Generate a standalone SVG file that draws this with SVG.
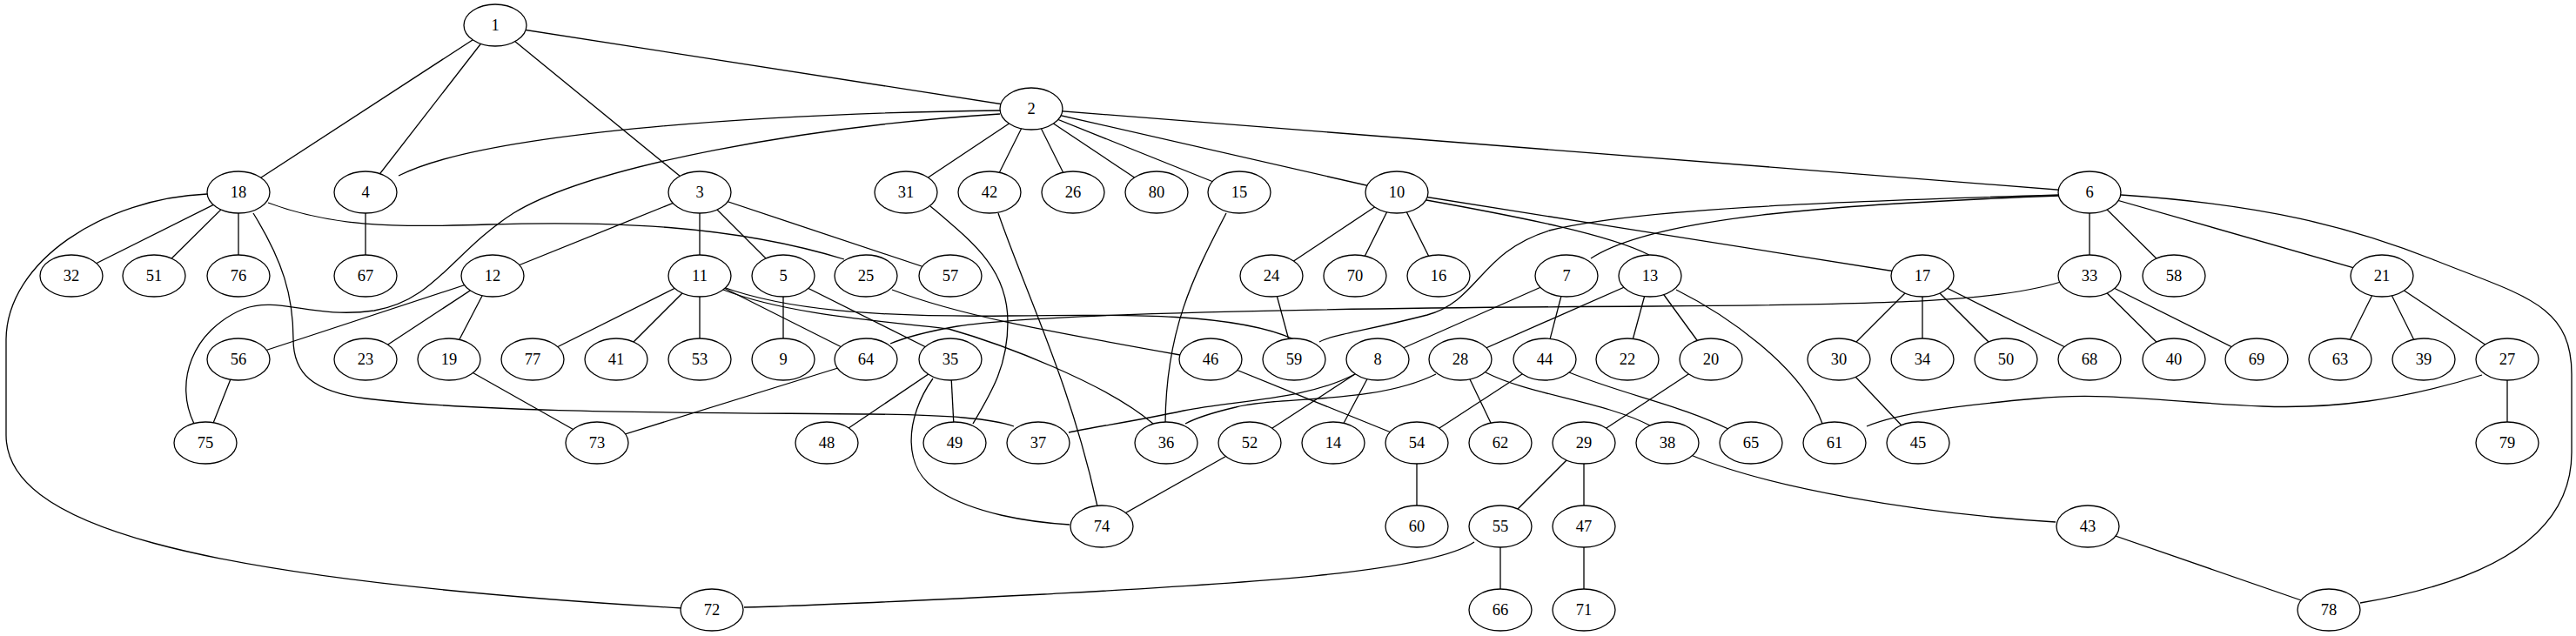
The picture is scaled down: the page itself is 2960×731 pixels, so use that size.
<svg xmlns="http://www.w3.org/2000/svg" width="2960" height="731" viewBox="0 0 2960 731">
<style>
.e{fill:none;stroke:#000;stroke-width:1.3}
.n ellipse{fill:#fff;stroke:#000;stroke-width:1.3}
.n text{font-family:"Liberation Serif","Times New Roman",serif;font-size:18.5px;text-anchor:middle;fill:#000}
</style>
<rect width="2960" height="731" fill="#fff"/>
<g id="edges">
<line class="e" x1="569" y1="29" x2="1185" y2="125"/>
<line class="e" x1="569" y1="29" x2="274" y2="221"/>
<line class="e" x1="569" y1="29" x2="420" y2="221"/>
<line class="e" x1="569" y1="29" x2="804" y2="221"/>
<line class="e" x1="1185" y1="125" x2="1041" y2="221"/>
<line class="e" x1="1185" y1="125" x2="1137" y2="221"/>
<line class="e" x1="1185" y1="125" x2="1233" y2="221"/>
<line class="e" x1="1185" y1="125" x2="1329" y2="221"/>
<line class="e" x1="1185" y1="125" x2="1424" y2="221"/>
<line class="e" x1="1185" y1="125" x2="1605" y2="221"/>
<line class="e" x1="1185" y1="125" x2="2401" y2="221"/>
<line class="e" x1="274" y1="221" x2="82" y2="317"/>
<line class="e" x1="274" y1="221" x2="177" y2="317"/>
<line class="e" x1="274" y1="221" x2="274" y2="317"/>
<line class="e" x1="420" y1="221" x2="420" y2="317"/>
<line class="e" x1="804" y1="221" x2="566" y2="317"/>
<line class="e" x1="804" y1="221" x2="804" y2="317"/>
<line class="e" x1="804" y1="221" x2="900" y2="317"/>
<line class="e" x1="804" y1="221" x2="1092" y2="317"/>
<line class="e" x1="1605" y1="221" x2="1461" y2="317"/>
<line class="e" x1="1605" y1="221" x2="1557" y2="317"/>
<line class="e" x1="1605" y1="221" x2="1653" y2="317"/>
<line class="e" x1="1605" y1="221" x2="2209" y2="317"/>
<line class="e" x1="2401" y1="221" x2="2401" y2="317"/>
<line class="e" x1="2401" y1="221" x2="2498" y2="317"/>
<line class="e" x1="2401" y1="221" x2="2737" y2="317"/>
<line class="e" x1="566" y1="317" x2="274" y2="413"/>
<line class="e" x1="566" y1="317" x2="420" y2="413"/>
<line class="e" x1="566" y1="317" x2="516" y2="413"/>
<line class="e" x1="804" y1="317" x2="612" y2="413"/>
<line class="e" x1="804" y1="317" x2="708" y2="413"/>
<line class="e" x1="804" y1="317" x2="804" y2="413"/>
<line class="e" x1="804" y1="317" x2="995" y2="413"/>
<line class="e" x1="900" y1="317" x2="900" y2="413"/>
<line class="e" x1="900" y1="317" x2="1092" y2="413"/>
<line class="e" x1="1461" y1="317" x2="1487" y2="413"/>
<line class="e" x1="1800" y1="317" x2="1583" y2="413"/>
<line class="e" x1="1800" y1="317" x2="1775" y2="413"/>
<line class="e" x1="1896" y1="317" x2="1678" y2="413"/>
<line class="e" x1="1896" y1="317" x2="1870" y2="413"/>
<line class="e" x1="1896" y1="317" x2="1966" y2="413"/>
<line class="e" x1="2209" y1="317" x2="2113" y2="413"/>
<line class="e" x1="2209" y1="317" x2="2209" y2="413"/>
<line class="e" x1="2209" y1="317" x2="2305" y2="413"/>
<line class="e" x1="2209" y1="317" x2="2401" y2="413"/>
<line class="e" x1="2401" y1="317" x2="2498" y2="413"/>
<line class="e" x1="2401" y1="317" x2="2593" y2="413"/>
<line class="e" x1="2737" y1="317" x2="2689" y2="413"/>
<line class="e" x1="2737" y1="317" x2="2785" y2="413"/>
<line class="e" x1="2737" y1="317" x2="2881" y2="413"/>
<line class="e" x1="274" y1="413" x2="236" y2="509"/>
<line class="e" x1="516" y1="413" x2="686" y2="509"/>
<line class="e" x1="995" y1="413" x2="686" y2="509"/>
<line class="e" x1="1092" y1="413" x2="950" y2="509"/>
<line class="e" x1="1092" y1="413" x2="1097" y2="509"/>
<line class="e" x1="1391" y1="413" x2="1628" y2="509"/>
<line class="e" x1="1583" y1="413" x2="1436" y2="509"/>
<line class="e" x1="1583" y1="413" x2="1532" y2="509"/>
<line class="e" x1="1678" y1="413" x2="1724" y2="509"/>
<line class="e" x1="1775" y1="413" x2="1628" y2="509"/>
<line class="e" x1="1966" y1="413" x2="1820" y2="509"/>
<line class="e" x1="2113" y1="413" x2="2204" y2="509"/>
<line class="e" x1="2881" y1="413" x2="2881" y2="509"/>
<line class="e" x1="1436" y1="509" x2="1266" y2="605"/>
<line class="e" x1="1628" y1="509" x2="1628" y2="605"/>
<line class="e" x1="1820" y1="509" x2="1724" y2="605"/>
<line class="e" x1="1820" y1="509" x2="1820" y2="605"/>
<line class="e" x1="1724" y1="605" x2="1724" y2="701"/>
<line class="e" x1="1820" y1="605" x2="1820" y2="701"/>
<line class="e" x1="2399" y1="605" x2="2676" y2="701"/>
<path class="e" d="M1149,127 C900,130 560,150 458,202"/>
<path class="e" d="M1149,131 C930,145 680,190 590,245 C520,290 500,345 430,357 C360,367 320,340 280,355 C220,380 200,440 223,487"/>
<path class="e" d="M291,245 C325,300 337,340 337,390 C337,430 360,450 420,458 C560,475 800,474 1000,476 C1090,477 1140,481 1165,490"/>
<path class="e" d="M238,223 C120,228 8,300 7,390 L7,500 C7,600 200,665 784,699"/>
<path class="e" d="M308,233 C380,260 450,262 560,258 C700,254 840,258 970,298"/>
<path class="e" d="M1069,237 C1120,280 1158,310 1158,370 C1158,420 1140,450 1118,487"/>
<path class="e" d="M1147,245 C1180,340 1230,440 1261,582"/>
<path class="e" d="M1409,245 C1370,320 1340,380 1339,486"/>
<path class="e" d="M831,333 C900,360 1000,368 1090,378 C1150,395 1270,440 1325,487"/>
<path class="e" d="M831,330 C900,355 1000,365 1160,363 C1300,361 1420,360 1487,390"/>
<path class="e" d="M1025,333 C1100,362 1200,380 1356,408"/>
<path class="e" d="M2368,324 C2300,345 2200,350 1900,352 C1500,354 1200,360 1100,375 C1060,382 1035,390 1023,395"/>
<path class="e" d="M2366,225 C2100,235 1900,250 1828,297"/>
<path class="e" d="M2366,224 C2100,232 1880,240 1780,265 C1700,290 1700,345 1640,362 C1570,380 1530,385 1516,393"/>
<path class="e" d="M2437,224 C2600,235 2700,260 2800,300 C2900,340 2955,350 2955,430 L2955,520 C2955,620 2850,670 2712,693"/>
<path class="e" d="M1639,230 C1750,250 1850,270 1895,293"/>
<path class="e" d="M1926,333 C1980,360 2070,420 2094,487"/>
<path class="e" d="M1557,430 C1500,460 1420,460 1360,472 C1300,485 1260,490 1228,497"/>
<path class="e" d="M1650,430 C1580,465 1470,455 1420,468 C1390,475 1375,480 1362,487"/>
<path class="e" d="M1072,435 C1040,480 1035,540 1080,565 C1120,590 1180,600 1229,603"/>
<path class="e" d="M1803,428 C1870,455 1930,465 1988,494"/>
<path class="e" d="M1707,428 C1760,455 1840,460 1898,490"/>
<path class="e" d="M1943,523 C2030,560 2200,590 2362,600"/>
<path class="e" d="M1694,623 C1640,660 1400,672 1200,683 C1000,693 900,697 855,698"/>
<path class="e" d="M2852,431 C2760,460 2680,470 2600,467 C2500,463 2420,450 2340,458 C2250,466 2180,475 2145,490"/>
</g>
<g id="node1" class="n"><ellipse cx="569" cy="29" rx="36" ry="24"/><text x="569" y="35">1</text></g>
<g id="node2" class="n"><ellipse cx="1185" cy="125" rx="36" ry="24"/><text x="1185" y="131">2</text></g>
<g id="node18" class="n"><ellipse cx="274" cy="221" rx="36" ry="24"/><text x="274" y="227">18</text></g>
<g id="node4" class="n"><ellipse cx="420" cy="221" rx="36" ry="24"/><text x="420" y="227">4</text></g>
<g id="node3" class="n"><ellipse cx="804" cy="221" rx="36" ry="24"/><text x="804" y="227">3</text></g>
<g id="node31" class="n"><ellipse cx="1041" cy="221" rx="36" ry="24"/><text x="1041" y="227">31</text></g>
<g id="node42" class="n"><ellipse cx="1137" cy="221" rx="36" ry="24"/><text x="1137" y="227">42</text></g>
<g id="node26" class="n"><ellipse cx="1233" cy="221" rx="36" ry="24"/><text x="1233" y="227">26</text></g>
<g id="node80" class="n"><ellipse cx="1329" cy="221" rx="36" ry="24"/><text x="1329" y="227">80</text></g>
<g id="node15" class="n"><ellipse cx="1424" cy="221" rx="36" ry="24"/><text x="1424" y="227">15</text></g>
<g id="node10" class="n"><ellipse cx="1605" cy="221" rx="36" ry="24"/><text x="1605" y="227">10</text></g>
<g id="node6" class="n"><ellipse cx="2401" cy="221" rx="36" ry="24"/><text x="2401" y="227">6</text></g>
<g id="node32" class="n"><ellipse cx="82" cy="317" rx="36" ry="24"/><text x="82" y="323">32</text></g>
<g id="node51" class="n"><ellipse cx="177" cy="317" rx="36" ry="24"/><text x="177" y="323">51</text></g>
<g id="node76" class="n"><ellipse cx="274" cy="317" rx="36" ry="24"/><text x="274" y="323">76</text></g>
<g id="node67" class="n"><ellipse cx="420" cy="317" rx="36" ry="24"/><text x="420" y="323">67</text></g>
<g id="node12" class="n"><ellipse cx="566" cy="317" rx="36" ry="24"/><text x="566" y="323">12</text></g>
<g id="node11" class="n"><ellipse cx="804" cy="317" rx="36" ry="24"/><text x="804" y="323">11</text></g>
<g id="node5" class="n"><ellipse cx="900" cy="317" rx="36" ry="24"/><text x="900" y="323">5</text></g>
<g id="node25" class="n"><ellipse cx="995" cy="317" rx="36" ry="24"/><text x="995" y="323">25</text></g>
<g id="node57" class="n"><ellipse cx="1092" cy="317" rx="36" ry="24"/><text x="1092" y="323">57</text></g>
<g id="node24" class="n"><ellipse cx="1461" cy="317" rx="36" ry="24"/><text x="1461" y="323">24</text></g>
<g id="node70" class="n"><ellipse cx="1557" cy="317" rx="36" ry="24"/><text x="1557" y="323">70</text></g>
<g id="node16" class="n"><ellipse cx="1653" cy="317" rx="36" ry="24"/><text x="1653" y="323">16</text></g>
<g id="node7" class="n"><ellipse cx="1800" cy="317" rx="36" ry="24"/><text x="1800" y="323">7</text></g>
<g id="node13" class="n"><ellipse cx="1896" cy="317" rx="36" ry="24"/><text x="1896" y="323">13</text></g>
<g id="node17" class="n"><ellipse cx="2209" cy="317" rx="36" ry="24"/><text x="2209" y="323">17</text></g>
<g id="node33" class="n"><ellipse cx="2401" cy="317" rx="36" ry="24"/><text x="2401" y="323">33</text></g>
<g id="node58" class="n"><ellipse cx="2498" cy="317" rx="36" ry="24"/><text x="2498" y="323">58</text></g>
<g id="node21" class="n"><ellipse cx="2737" cy="317" rx="36" ry="24"/><text x="2737" y="323">21</text></g>
<g id="node56" class="n"><ellipse cx="274" cy="413" rx="36" ry="24"/><text x="274" y="419">56</text></g>
<g id="node23" class="n"><ellipse cx="420" cy="413" rx="36" ry="24"/><text x="420" y="419">23</text></g>
<g id="node19" class="n"><ellipse cx="516" cy="413" rx="36" ry="24"/><text x="516" y="419">19</text></g>
<g id="node77" class="n"><ellipse cx="612" cy="413" rx="36" ry="24"/><text x="612" y="419">77</text></g>
<g id="node41" class="n"><ellipse cx="708" cy="413" rx="36" ry="24"/><text x="708" y="419">41</text></g>
<g id="node53" class="n"><ellipse cx="804" cy="413" rx="36" ry="24"/><text x="804" y="419">53</text></g>
<g id="node9" class="n"><ellipse cx="900" cy="413" rx="36" ry="24"/><text x="900" y="419">9</text></g>
<g id="node64" class="n"><ellipse cx="995" cy="413" rx="36" ry="24"/><text x="995" y="419">64</text></g>
<g id="node35" class="n"><ellipse cx="1092" cy="413" rx="36" ry="24"/><text x="1092" y="419">35</text></g>
<g id="node46" class="n"><ellipse cx="1391" cy="413" rx="36" ry="24"/><text x="1391" y="419">46</text></g>
<g id="node59" class="n"><ellipse cx="1487" cy="413" rx="36" ry="24"/><text x="1487" y="419">59</text></g>
<g id="node8" class="n"><ellipse cx="1583" cy="413" rx="36" ry="24"/><text x="1583" y="419">8</text></g>
<g id="node28" class="n"><ellipse cx="1678" cy="413" rx="36" ry="24"/><text x="1678" y="419">28</text></g>
<g id="node44" class="n"><ellipse cx="1775" cy="413" rx="36" ry="24"/><text x="1775" y="419">44</text></g>
<g id="node22" class="n"><ellipse cx="1870" cy="413" rx="36" ry="24"/><text x="1870" y="419">22</text></g>
<g id="node20" class="n"><ellipse cx="1966" cy="413" rx="36" ry="24"/><text x="1966" y="419">20</text></g>
<g id="node30" class="n"><ellipse cx="2113" cy="413" rx="36" ry="24"/><text x="2113" y="419">30</text></g>
<g id="node34" class="n"><ellipse cx="2209" cy="413" rx="36" ry="24"/><text x="2209" y="419">34</text></g>
<g id="node50" class="n"><ellipse cx="2305" cy="413" rx="36" ry="24"/><text x="2305" y="419">50</text></g>
<g id="node68" class="n"><ellipse cx="2401" cy="413" rx="36" ry="24"/><text x="2401" y="419">68</text></g>
<g id="node40" class="n"><ellipse cx="2498" cy="413" rx="36" ry="24"/><text x="2498" y="419">40</text></g>
<g id="node69" class="n"><ellipse cx="2593" cy="413" rx="36" ry="24"/><text x="2593" y="419">69</text></g>
<g id="node63" class="n"><ellipse cx="2689" cy="413" rx="36" ry="24"/><text x="2689" y="419">63</text></g>
<g id="node39" class="n"><ellipse cx="2785" cy="413" rx="36" ry="24"/><text x="2785" y="419">39</text></g>
<g id="node27" class="n"><ellipse cx="2881" cy="413" rx="36" ry="24"/><text x="2881" y="419">27</text></g>
<g id="node75" class="n"><ellipse cx="236" cy="509" rx="36" ry="24"/><text x="236" y="515">75</text></g>
<g id="node73" class="n"><ellipse cx="686" cy="509" rx="36" ry="24"/><text x="686" y="515">73</text></g>
<g id="node48" class="n"><ellipse cx="950" cy="509" rx="36" ry="24"/><text x="950" y="515">48</text></g>
<g id="node49" class="n"><ellipse cx="1097" cy="509" rx="36" ry="24"/><text x="1097" y="515">49</text></g>
<g id="node37" class="n"><ellipse cx="1193" cy="509" rx="36" ry="24"/><text x="1193" y="515">37</text></g>
<g id="node36" class="n"><ellipse cx="1340" cy="509" rx="36" ry="24"/><text x="1340" y="515">36</text></g>
<g id="node52" class="n"><ellipse cx="1436" cy="509" rx="36" ry="24"/><text x="1436" y="515">52</text></g>
<g id="node14" class="n"><ellipse cx="1532" cy="509" rx="36" ry="24"/><text x="1532" y="515">14</text></g>
<g id="node54" class="n"><ellipse cx="1628" cy="509" rx="36" ry="24"/><text x="1628" y="515">54</text></g>
<g id="node62" class="n"><ellipse cx="1724" cy="509" rx="36" ry="24"/><text x="1724" y="515">62</text></g>
<g id="node29" class="n"><ellipse cx="1820" cy="509" rx="36" ry="24"/><text x="1820" y="515">29</text></g>
<g id="node38" class="n"><ellipse cx="1916" cy="509" rx="36" ry="24"/><text x="1916" y="515">38</text></g>
<g id="node65" class="n"><ellipse cx="2012" cy="509" rx="36" ry="24"/><text x="2012" y="515">65</text></g>
<g id="node61" class="n"><ellipse cx="2108" cy="509" rx="36" ry="24"/><text x="2108" y="515">61</text></g>
<g id="node45" class="n"><ellipse cx="2204" cy="509" rx="36" ry="24"/><text x="2204" y="515">45</text></g>
<g id="node79" class="n"><ellipse cx="2881" cy="509" rx="36" ry="24"/><text x="2881" y="515">79</text></g>
<g id="node74" class="n"><ellipse cx="1266" cy="605" rx="36" ry="24"/><text x="1266" y="611">74</text></g>
<g id="node60" class="n"><ellipse cx="1628" cy="605" rx="36" ry="24"/><text x="1628" y="611">60</text></g>
<g id="node55" class="n"><ellipse cx="1724" cy="605" rx="36" ry="24"/><text x="1724" y="611">55</text></g>
<g id="node47" class="n"><ellipse cx="1820" cy="605" rx="36" ry="24"/><text x="1820" y="611">47</text></g>
<g id="node43" class="n"><ellipse cx="2399" cy="605" rx="36" ry="24"/><text x="2399" y="611">43</text></g>
<g id="node72" class="n"><ellipse cx="818" cy="701" rx="36" ry="24"/><text x="818" y="707">72</text></g>
<g id="node66" class="n"><ellipse cx="1724" cy="701" rx="36" ry="24"/><text x="1724" y="707">66</text></g>
<g id="node71" class="n"><ellipse cx="1820" cy="701" rx="36" ry="24"/><text x="1820" y="707">71</text></g>
<g id="node78" class="n"><ellipse cx="2676" cy="701" rx="36" ry="24"/><text x="2676" y="707">78</text></g>
</svg>
